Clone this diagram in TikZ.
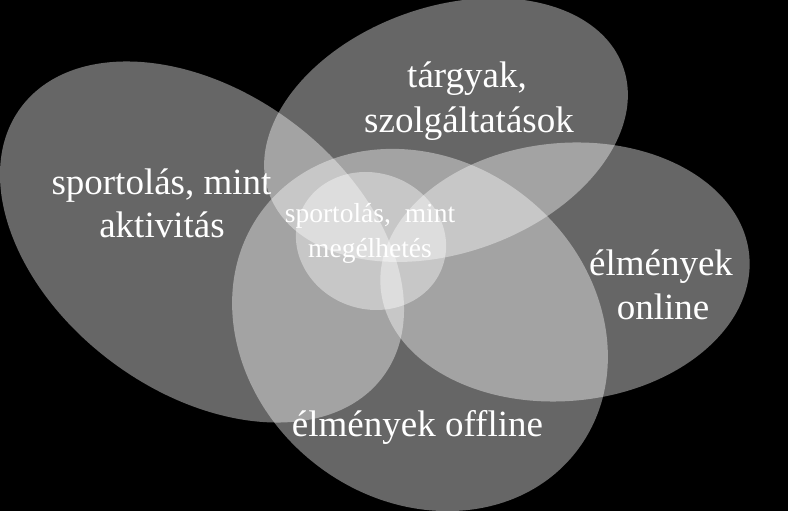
\documentclass[tikz,border=0pt]{standalone}
\usepackage{fontspec}
\setmainfont{Liberation Serif}
\begin{document}
\begin{tikzpicture}[x=1pt,y=1pt,
  blob/.style={fill=white,fill opacity=0.4},
  bigtext/.style={text=white,font=\fontsize{37}{43}\selectfont,inner sep=0pt,anchor=base},
  smalltext/.style={text=white,font=\fontsize{27.5}{33}\selectfont,inner sep=0pt,anchor=base}]
\useasboundingbox (0,0) rectangle (788,511);
\fill[black] (0,0) rectangle (788,511);
% ellipses
\fill[blob,rotate around={-36.6:(202,269)}] (202,269) ellipse [x radius=225.6, y radius=150];
\fill[blob,rotate around={19.6:(446,381)}] (446,381) ellipse [x radius=188, y radius=123];
\fill[blob,rotate around={5:(565,239)}] (565,239) ellipse [x radius=185, y radius=129];
\fill[blob,rotate around={-38:(420,181)}] (420,181) ellipse [x radius=198, y radius=170];
\fill[blob,rotate around={-20:(371,270)}] (371,270) ellipse [x radius=76, y radius=68];
% labels
\node[bigtext] (a1) at (161.5,316) {sportolás, mint};
\node[bigtext] (a2) at (162,273) {aktivitás};
\node[bigtext] (b1) at (467,423) {tárgyak,};
\node[bigtext] (b2) at (469,378) {szolgáltatások};
\node[bigtext] (c1) at (661,235) {élmények};
\node[bigtext] (c2) at (663,191) {online};
\node[bigtext] (d1) at (417.5,74) {élmények offline};
\node[smalltext] (e1) at (370,288) {sportolás,\hspace{0.5em}mint};
\node[smalltext] (e2) at (370,253) {megélhetés};
\end{tikzpicture}
\end{document}
